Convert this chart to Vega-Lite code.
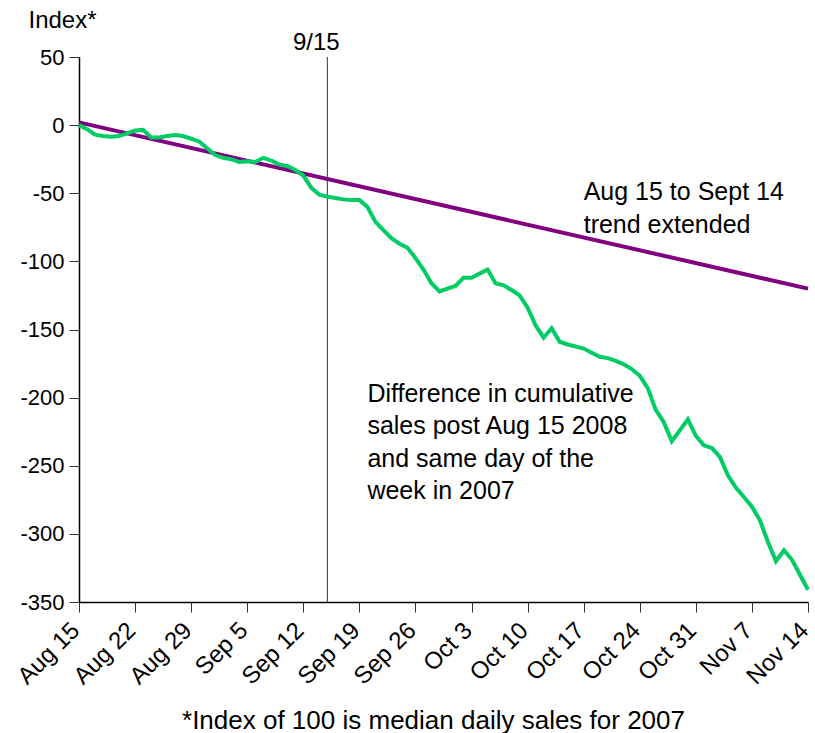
{
  "$schema": "https://vega.github.io/schema/vega-lite/v6.json",
  "width": 729,
  "height": 545,
  "autosize": "none",
  "padding": {"left": 79, "top": 57, "right": 7, "bottom": 131},
  "background": "white",
  "config": {
    "view": {"stroke": null},
    "font": "Liberation Sans",
    "axis": {"labelFont": "Liberation Sans", "titleFont": "Liberation Sans", "labelColor": "black", "titleColor": "black", "grid": false}
  },
  "datasets": {
    "actual": [
      {"date": "2008-08-15", "value": 0},
      {"date": "2008-08-16", "value": -3},
      {"date": "2008-08-17", "value": -7},
      {"date": "2008-08-18", "value": -8},
      {"date": "2008-08-19", "value": -8.6},
      {"date": "2008-08-20", "value": -8},
      {"date": "2008-08-21", "value": -6},
      {"date": "2008-08-22", "value": -4},
      {"date": "2008-08-23", "value": -3.5},
      {"date": "2008-08-24", "value": -9},
      {"date": "2008-08-25", "value": -9},
      {"date": "2008-08-26", "value": -8},
      {"date": "2008-08-27", "value": -7.3},
      {"date": "2008-08-28", "value": -8},
      {"date": "2008-08-29", "value": -10},
      {"date": "2008-08-30", "value": -12},
      {"date": "2008-08-31", "value": -17},
      {"date": "2008-09-01", "value": -22},
      {"date": "2008-09-02", "value": -24},
      {"date": "2008-09-03", "value": -25},
      {"date": "2008-09-04", "value": -27},
      {"date": "2008-09-05", "value": -26.5},
      {"date": "2008-09-06", "value": -27},
      {"date": "2008-09-07", "value": -24},
      {"date": "2008-09-08", "value": -26},
      {"date": "2008-09-09", "value": -29},
      {"date": "2008-09-10", "value": -30},
      {"date": "2008-09-11", "value": -33},
      {"date": "2008-09-12", "value": -37},
      {"date": "2008-09-13", "value": -46},
      {"date": "2008-09-14", "value": -51},
      {"date": "2008-09-15", "value": -52.5},
      {"date": "2008-09-16", "value": -53.5},
      {"date": "2008-09-17", "value": -54.5},
      {"date": "2008-09-18", "value": -55},
      {"date": "2008-09-19", "value": -55},
      {"date": "2008-09-20", "value": -60},
      {"date": "2008-09-21", "value": -71},
      {"date": "2008-09-22", "value": -77},
      {"date": "2008-09-23", "value": -83},
      {"date": "2008-09-24", "value": -87},
      {"date": "2008-09-25", "value": -90},
      {"date": "2008-09-26", "value": -97.6},
      {"date": "2008-09-27", "value": -106},
      {"date": "2008-09-28", "value": -116},
      {"date": "2008-09-29", "value": -122},
      {"date": "2008-09-30", "value": -120},
      {"date": "2008-10-01", "value": -118},
      {"date": "2008-10-02", "value": -112},
      {"date": "2008-10-03", "value": -112},
      {"date": "2008-10-04", "value": -109},
      {"date": "2008-10-05", "value": -106},
      {"date": "2008-10-06", "value": -116},
      {"date": "2008-10-07", "value": -117.6},
      {"date": "2008-10-08", "value": -121},
      {"date": "2008-10-09", "value": -125},
      {"date": "2008-10-10", "value": -134},
      {"date": "2008-10-11", "value": -147},
      {"date": "2008-10-12", "value": -156},
      {"date": "2008-10-13", "value": -149},
      {"date": "2008-10-14", "value": -159},
      {"date": "2008-10-15", "value": -161},
      {"date": "2008-10-16", "value": -162.5},
      {"date": "2008-10-17", "value": -164},
      {"date": "2008-10-18", "value": -167},
      {"date": "2008-10-19", "value": -170},
      {"date": "2008-10-20", "value": -171},
      {"date": "2008-10-21", "value": -173},
      {"date": "2008-10-22", "value": -175.5},
      {"date": "2008-10-23", "value": -179},
      {"date": "2008-10-24", "value": -184},
      {"date": "2008-10-25", "value": -193},
      {"date": "2008-10-26", "value": -209},
      {"date": "2008-10-27", "value": -218},
      {"date": "2008-10-28", "value": -232},
      {"date": "2008-10-29", "value": -224},
      {"date": "2008-10-30", "value": -216},
      {"date": "2008-10-31", "value": -228},
      {"date": "2008-11-01", "value": -235},
      {"date": "2008-11-02", "value": -237},
      {"date": "2008-11-03", "value": -243.5},
      {"date": "2008-11-04", "value": -257},
      {"date": "2008-11-05", "value": -266},
      {"date": "2008-11-06", "value": -273},
      {"date": "2008-11-07", "value": -280},
      {"date": "2008-11-08", "value": -290},
      {"date": "2008-11-09", "value": -306},
      {"date": "2008-11-10", "value": -320},
      {"date": "2008-11-11", "value": -312},
      {"date": "2008-11-12", "value": -319},
      {"date": "2008-11-13", "value": -330},
      {"date": "2008-11-14", "value": -341}
    ],
    "trend": [
      {"date": "2008-08-15", "value": 2},
      {"date": "2008-11-14", "value": -120}
    ],
    "marker": [
      {"date": "2008-09-15", "value": 50, "label": "9/15"}
    ],
    "notes": [
      {"date": "2008-10-17", "value": -55, "label": ["Aug 15 to Sept 14", "trend extended"]},
      {"date": "2008-09-20", "value": -203, "label": ["Difference in cumulative", "sales post Aug 15 2008", "and same day of the", "week in 2007"]}
    ]
  },
  "encoding": {
    "x": {
      "field": "date",
      "type": "temporal",
      "scale": {"type": "utc", "domain": [{"year": 2008, "month": 8, "date": 15, "utc": true}, {"year": 2008, "month": 11, "date": 14, "utc": true}]},
      "axis": {
        "title": "*Index of 100 is median daily sales for 2007",
        "titleFontSize": 26,
        "titleFontWeight": "normal",
        "titleX": 354,
        "titleY": 126,
        "titleAlign": "center",
        "titleBaseline": "alphabetic",
        "values": [
          {"year": 2008, "month": 8, "date": 15, "utc": true},
          {"year": 2008, "month": 8, "date": 22, "utc": true},
          {"year": 2008, "month": 8, "date": 29, "utc": true},
          {"year": 2008, "month": 9, "date": 5, "utc": true},
          {"year": 2008, "month": 9, "date": 12, "utc": true},
          {"year": 2008, "month": 9, "date": 19, "utc": true},
          {"year": 2008, "month": 9, "date": 26, "utc": true},
          {"year": 2008, "month": 10, "date": 3, "utc": true},
          {"year": 2008, "month": 10, "date": 10, "utc": true},
          {"year": 2008, "month": 10, "date": 17, "utc": true},
          {"year": 2008, "month": 10, "date": 24, "utc": true},
          {"year": 2008, "month": 10, "date": 31, "utc": true},
          {"year": 2008, "month": 11, "date": 7, "utc": true},
          {"year": 2008, "month": 11, "date": 14, "utc": true}
        ],
        "labelExpr": "utcFormat(datum.value, '%b %-d')",
        "labelAngle": -45,
        "labelAlign": "right",
        "labelBaseline": "top",
        "labelFontSize": 24,
        "labelPadding": 6,
        "labelOffset": -12,
        "labelOverlap": false,
        "labelFlush": false,
        "labelBound": false,
        "tickSize": 10,
        "tickColor": "#333333",
        "domainColor": "black",
        "domainWidth": 1.5
      }
    },
    "y": {
      "field": "value",
      "type": "quantitative",
      "scale": {"domain": [-350, 50], "nice": false, "zero": false},
      "axis": {
        "title": "Index*",
        "titleAngle": 0,
        "titleFontSize": 24,
        "titleFontWeight": "normal",
        "titleX": -51,
        "titleY": -30,
        "titleAlign": "left",
        "titleBaseline": "alphabetic",
        "values": [50, 0, -50, -100, -150, -200, -250, -300, -350],
        "labelExpr": "toString(datum.value)",
        "labelFontSize": 22,
        "labelPadding": 5,
        "tickSize": 10,
        "tickColor": "#333333",
        "domainColor": "black",
        "domainWidth": 1.5
      }
    }
  },
  "layer": [
    {
      "data": {"name": "marker"},
      "mark": {"type": "rule", "color": "#333333", "strokeWidth": 1},
      "encoding": {"y": null}
    },
    {
      "data": {"name": "marker"},
      "mark": {"type": "text", "fontSize": 24, "align": "center", "baseline": "alphabetic", "dy": -7, "dx": -11, "color": "black"},
      "encoding": {"text": {"field": "label"}}
    },
    {
      "data": {"name": "trend"},
      "mark": {"type": "line", "color": "#800080", "strokeWidth": 4}
    },
    {
      "data": {"name": "actual"},
      "mark": {"type": "line", "color": "#00CC66", "strokeWidth": 4}
    },
    {
      "data": {"name": "notes"},
      "mark": {"type": "text", "fontSize": 25, "align": "left", "baseline": "alphabetic", "lineHeight": 32.5, "color": "black"},
      "encoding": {"text": {"field": "label"}}
    }
  ]
}
